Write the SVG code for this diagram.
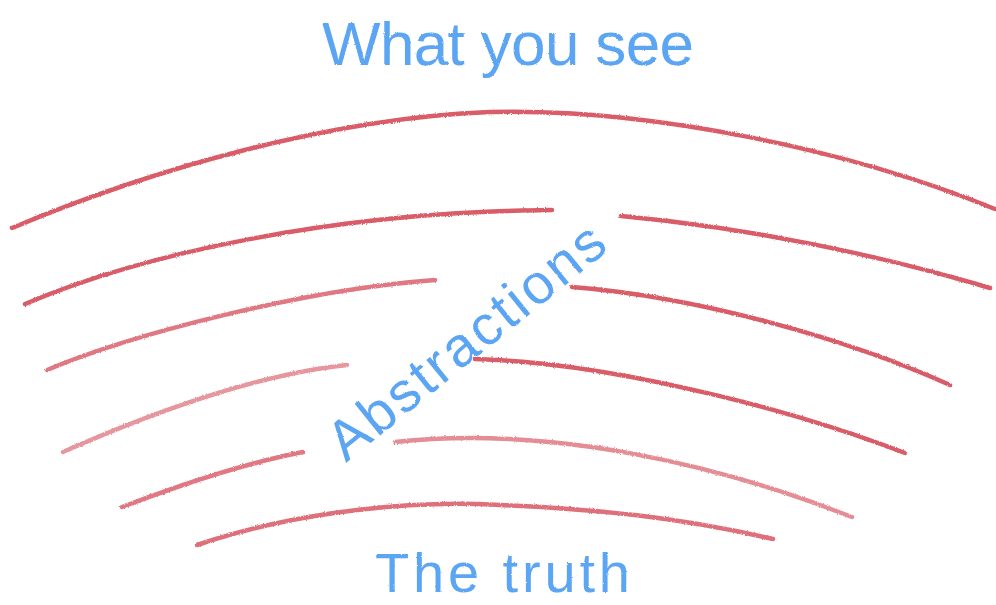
<svg xmlns="http://www.w3.org/2000/svg" width="996" height="605" viewBox="0 0 996 605">
  <defs>
    <filter id="crayon" x="-5%" y="-20%" width="110%" height="140%">
      <feTurbulence type="fractalNoise" baseFrequency="0.9" numOctaves="2" seed="3" result="n"/>
      <feDisplacementMap in="SourceGraphic" in2="n" scale="2.5" xChannelSelector="R" yChannelSelector="G"/>
    </filter>
    <filter id="chalk" x="-5%" y="-20%" width="110%" height="140%">
      <feTurbulence type="fractalNoise" baseFrequency="1.1" numOctaves="2" seed="7" result="n"/>
      <feDisplacementMap in="SourceGraphic" in2="n" scale="2" xChannelSelector="R" yChannelSelector="G"/>
    </filter>
    <style>
      .stroke { fill: none; stroke: #d2404f; stroke-width: 4.5; stroke-linecap: round; opacity: 0.85; }
      .light { opacity: 0.55; }
      .hand { font-family: "Liberation Sans", "DejaVu Sans", sans-serif; fill: #4b9bf2; fill-opacity: 0.9; }
    </style>
  </defs>
  <rect width="996" height="605" fill="#ffffff"/>
  <g id="layers" filter="url(#crayon)">
    <path id="layer1" class="stroke" d="M12,228 C150,170 330,118 490,112 C650,108 850,150 995,209"/>
    <path id="layer2a" class="stroke" d="M25,304 C140,255 330,212 552,210"/>
    <path id="layer2b" class="stroke" d="M621,216 C750,228 880,255 990,288"/>
    <path id="layer3a" class="stroke" style="opacity:0.7" d="M47,370 C130,335 300,290 435,280"/>
    <path id="layer3b" class="stroke" d="M572,287 C700,297 850,340 950,385"/>
    <path id="layer4a" class="stroke light" d="M63,452 C140,418 250,375 347,365"/>
    <path id="layer4b" class="stroke" d="M475,359 C600,362 780,405 905,453"/>
    <path id="layer5a" class="stroke" style="opacity:0.7" d="M122,507 C180,485 250,462 303,452"/>
    <path id="layer5b" class="stroke" style="opacity:0.6" d="M395,442 C550,425 720,465 852,517"/>
    <path id="layer6" class="stroke" style="opacity:0.75" d="M197,545 C300,510 420,500 500,505 C620,510 700,522 773,539"/>
  </g>
  <g id="label-top" filter="url(#chalk)">
    <text class="hand" x="322" y="65" font-size="62" textLength="372" lengthAdjust="spacing">What you see</text>
  </g>
  <g id="label-middle" filter="url(#chalk)">
    <text class="hand" x="0" y="0" font-size="56" textLength="340" lengthAdjust="spacing" text-anchor="middle" transform="translate(478,356) rotate(-39)">Abstractions</text>
  </g>
  <g id="label-bottom" filter="url(#chalk)">
    <text class="hand" x="375" y="592" font-size="56" textLength="255" lengthAdjust="spacing">The truth</text>
  </g>
</svg>
